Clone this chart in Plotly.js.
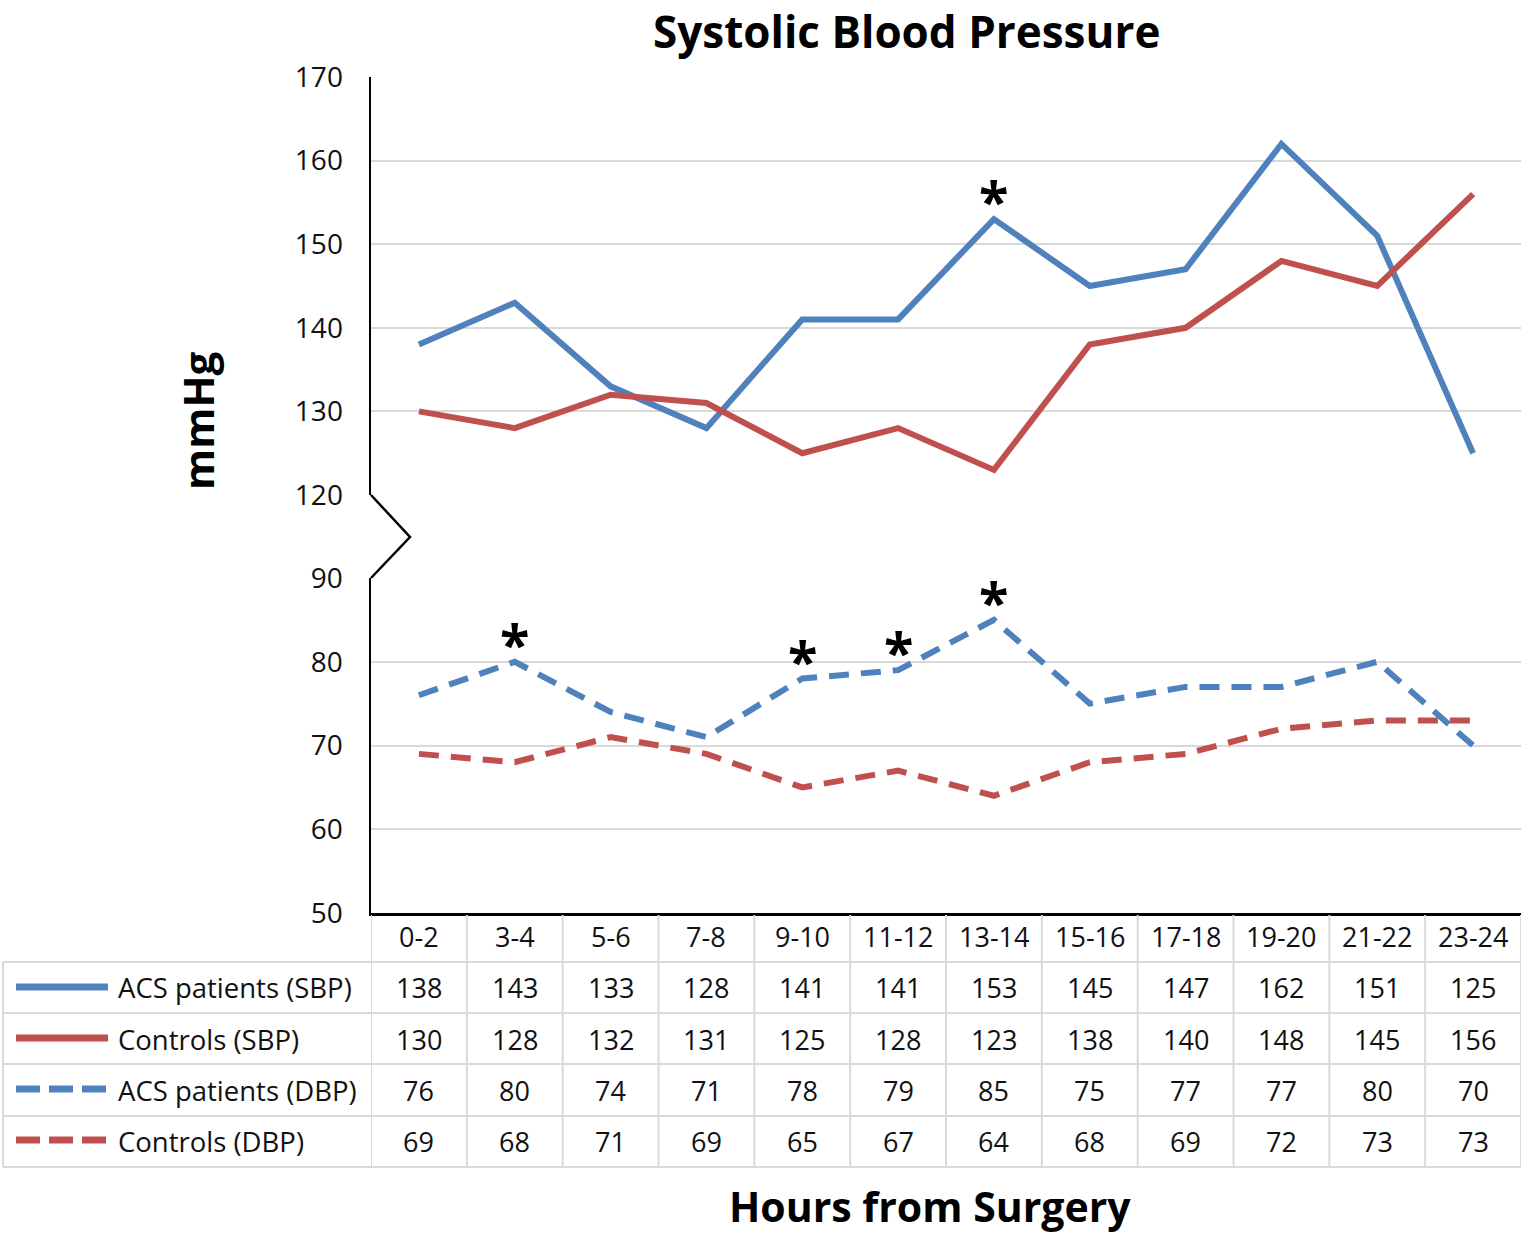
<!DOCTYPE html>
<html>
<head>
<meta charset="utf-8">
<script src="https://cdn.plot.ly/plotly-3.0.1.min.js"></script>
<style>html,body{margin:0;padding:0;background:#fff;}#chart{width:1524px;height:1235px;}</style>
</head>
<body>
<div id="chart"></div>
<script>
// ---- data ----
const categories = ['0-2','3-4','5-6','7-8','9-10','11-12','13-14','15-16','17-18','19-20','21-22','23-24'];
const acsSBP  = [138,143,133,128,141,141,153,145,147,162,151,125];
const ctrlSBP = [130,128,132,131,125,128,123,138,140,148,145,156];
const acsDBP  = [76,80,74,71,78,79,85,75,77,77,80,70];
const ctrlDBP = [69,68,71,69,65,67,64,68,69,72,73,73];
const seriesNames = ['ACS patients (SBP)','Controls (SBP)','ACS patients (DBP)','Controls (DBP)'];
const sbpTicks = [120,130,140,150,160,170];
const dbpTicks = [50,60,70,80,90];
const acsSBPSig = ['13-14'];
const acsDBPSig = ['3-4','9-10','11-12','13-14'];
const chartTitle = 'Systolic Blood Pressure';

// ---- styling ----
const BLUE = '#4f81bd', RED = '#c0504d', GRID = '#d9d9d9', TXT = '#111';
const FONT = '"Open Sans", Lato, sans-serif';
const W = 1524, H = 1235, L = 371, R = 3, T = 77, B = 322;
const plotW = W - L - R, plotH = H - T - B;
const px = v => (v - L) / plotW;          // pixel x -> paper x
const py = v => (T + plotH - v) / plotH;  // pixel y -> paper y

const allSeries = [acsSBP, ctrlSBP, acsDBP, ctrlDBP];
const seriesColors = [BLUE, RED, BLUE, RED];
const seriesDash = ['solid','solid','20px,12px','20px,12px'];
const seriesAxis = ['y2','y2','y','y'];

const traces = allSeries.map((vals, i) => ({
  type: 'scatter', mode: 'lines', x: categories, y: vals, name: seriesNames[i],
  yaxis: seriesAxis[i], xaxis: 'x',
  line: {color: seriesColors[i], width: 6, dash: seriesDash[i]},
  hoverinfo: 'skip', showlegend: false
}));

const annotations = [];
const shapes = [];
const cellText = (extra) => Object.assign({showarrow: false, xanchor: 'center', yanchor: 'middle',
  font: {family: FONT, size: 27, color: TXT}}, extra);

// header row
categories.forEach(c => annotations.push(cellText({x: c, xref: 'x', y: py(937), yref: 'paper', text: c})));
// table rows
const rowCenters = [988, 1039, 1090, 1141];
allSeries.forEach((vals, r) => {
  annotations.push(cellText({
    x: px(116), xref: 'paper', xanchor: 'left', y: py(rowCenters[r]), yref: 'paper',
    text: seriesNames[r], font: {family: FONT, size: 27.5, color: TXT}
  }));
  vals.forEach((v, i) => annotations.push(cellText({
    x: categories[i], xref: 'x', y: py(rowCenters[r]), yref: 'paper', text: String(v)
  })));
  shapes.push({
    type: 'line', xref: 'paper', yref: 'paper', x0: px(16), x1: px(108),
    y0: py(rowCenters[r] - 1), y1: py(rowCenters[r] - 1),
    line: {color: seriesColors[r], width: 7, dash: r < 2 ? 'solid' : '24px,9px'}
  });
});

// table grid
const hLines = [962, 1013, 1064, 1116, 1167];
hLines.forEach(y => shapes.push({
  type: 'line', xref: 'paper', yref: 'paper', x0: px(3), x1: px(1521), y0: py(y), y1: py(y),
  line: {color: GRID, width: 2}
}));
shapes.push({type: 'line', xref: 'paper', yref: 'paper', x0: px(3), x1: px(3), y0: py(962), y1: py(1167), line: {color: GRID, width: 2}});
for (let k = 0; k <= categories.length; k++) {
  shapes.push({type: 'line', xref: 'x', yref: 'paper', x0: k - 0.5, x1: k - 0.5,
    y0: py(915), y1: py(1167), line: {color: GRID, width: 2}});
}

// axis break zigzag
shapes.push({type: 'path', xref: 'paper', yref: 'paper',
  path: `M ${px(371)} ${py(495)} L ${px(410)} ${py(537)} L ${px(371)} ${py(578)}`,
  line: {color: '#000', width: 2.5}});

// significance asterisks
const starFont = {family: FONT, size: 54, color: '#000', weight: 'bold'};
acsSBPSig.forEach(c => annotations.push({
  x: c, xref: 'x', y: acsSBP[categories.indexOf(c)], yref: 'y2', text: '<b>*</b>', showarrow: false,
  xanchor: 'center', yanchor: 'bottom', yshift: -20, font: starFont
}));
acsDBPSig.forEach(c => annotations.push({
  x: c, xref: 'x', y: acsDBP[categories.indexOf(c)], yref: 'y', text: '<b>*</b>', showarrow: false,
  xanchor: 'center', yanchor: 'bottom', yshift: -20, font: starFont
}));

// chart title and axis titles
annotations.push({x: px(906), xref: 'paper', xanchor: 'center', y: py(31), yref: 'paper', yanchor: 'middle',
  text: '<b>' + chartTitle + '</b>', showarrow: false, font: {family: FONT, size: 44, color: '#000'}});
annotations.push({x: px(197), xref: 'paper', xanchor: 'center', y: py(421), yref: 'paper', yanchor: 'middle',
  text: '<b>mmHg</b>', textangle: -90, showarrow: false, font: {family: FONT, size: 42, color: '#000'}});
annotations.push({x: px(930), xref: 'paper', xanchor: 'center', y: py(1206), yref: 'paper', yanchor: 'middle',
  text: '<b>Hours from Surgery</b>', showarrow: false, font: {family: FONT, size: 41, color: '#000'}});

const yCommon = {
  showgrid: true, gridcolor: GRID, gridwidth: 2, zeroline: false,
  showline: true, linecolor: '#000', linewidth: 2.5, ticks: '',
  ticklabelstandoff: 20, tickfont: {family: FONT, size: 28, color: TXT}, fixedrange: true
};

const layout = {
  width: W, height: H, margin: {l: L, r: R, t: T, b: B, pad: 0},
  paper_bgcolor: '#fff', plot_bgcolor: '#fff',
  title: {text: ''},
  xaxis: {type: 'category', range: [-0.5, categories.length - 0.5], showline: true, linecolor: '#000',
    linewidth: 2.5, showgrid: false, showticklabels: false, ticks: '', anchor: 'y', fixedrange: true},
  yaxis: Object.assign({}, yCommon, {domain: [0, (913 - 578) / plotH], range: [50, 90], tickvals: dbpTicks, anchor: 'x'}),
  yaxis2: Object.assign({}, yCommon, {domain: [(913 - 495) / plotH, 1], range: [120, 170], tickvals: sbpTicks, anchor: 'x'}),
  annotations: annotations, shapes: shapes, showlegend: false
};

Plotly.newPlot('chart', traces, layout, {displayModeBar: false, staticPlot: true});
</script>
</body>
</html>
